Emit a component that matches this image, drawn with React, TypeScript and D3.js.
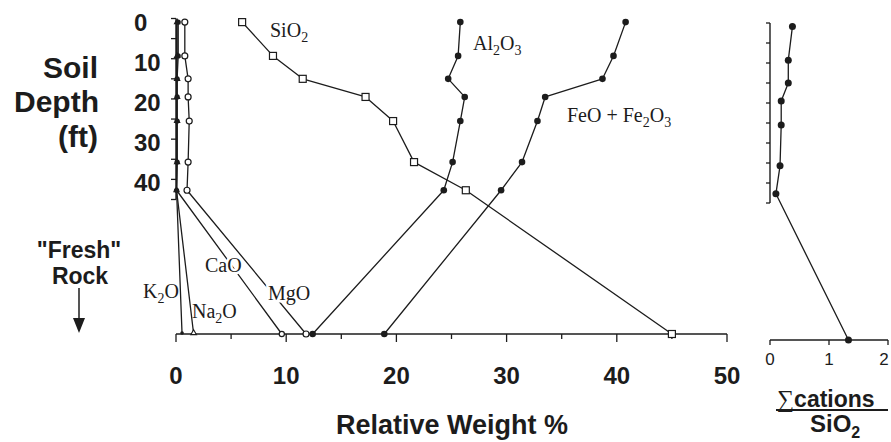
import React from 'react';
import * as d3 from 'd3';

// ---- data ----
const sampleDepths = [0.9, 9.3, 15.0, 19.5, 25.5, 35.7, 42.7]; // ft
const sio2 = [6.0, 8.8, 11.5, 17.2, 19.7, 21.6, 26.3];
const al2o3 = [25.8, 25.6, 24.7, 26.2, 25.8, 25.1, 24.3];
const feoFe2o3 = [40.8, 39.7, 38.7, 33.5, 32.8, 31.4, 29.5];
const mgo = [0.8, 0.8, 1.1, 1.1, 1.2, 1.1, 1.0];
const cao = [0.2, 0.2, 0.1, 0.1, 0.1, 0.1, 0.05];
const na2o = [0.1, 0.1, 0.1, 0.1, 0.1, 0.1, 0.05];
const k2o = [0.05, 0.05, 0.05, 0.05, 0.05, 0.05, 0.05];
// "fresh" rock values
const freshSio2 = 45.0;
const freshAl2o3 = 12.4;
const freshFeo = 18.9;
const freshMgo = 11.8;
const freshCao = 9.6;
const freshNa2o = 1.6;
const freshK2o = 0.55;
// sum cations / SiO2
const cationRatio = [0.38, 0.31, 0.31, 0.19, 0.19, 0.17, 0.1];
const freshCationRatio = 1.33;

const xTickValues = [0, 5, 10, 15, 20, 25, 30, 35, 40, 45, 50];
const xTickLabels = ['0', '10', '20', '30', '40', '50'];
const depthTickValues = [0, 5, 10, 15, 20, 25, 30, 35, 40, 45];
const depthTickLabels = ['0', '10', '20', '30', '40'];
const ratioTickLabels = ['0', '1', '2'];

const SANS = '"Liberation Sans", Arial, Helvetica, sans-serif';
const SERIF = '"Liberation Serif", "Times New Roman", serif';
const INK = '#1c1c1c';

export default function App() {
  const W = 891;
  const H = 442;
  const x = d3.scaleLinear().domain([0, 50]).range([176, 727]);
  const y = d3.scaleLinear().domain([0, 45]).range([18.5, 199.5]);
  const rockY = 334;
  const xr = d3.scaleLinear().domain([0, 2]).range([770, 888]);
  const yr = d3.scaleLinear().domain([0, 45]).range([23, 203]);
  const rockYr = 340;

  const line = d3.line<[number, number]>();
  const pts = (vals: number[], fresh: number): [number, number][] => [
    ...vals.map((v, i) => [x(v), y(sampleDepths[i])] as [number, number]),
    [x(fresh), rockY],
  ];
  const ptsR = (vals: number[], fresh: number): [number, number][] => [
    ...vals.map((v, i) => [xr(v), yr(sampleDepths[i])] as [number, number]),
    [xr(fresh), rockYr],
  ];

  const sSio2 = pts(sio2, freshSio2);
  const sAl = pts(al2o3, freshAl2o3);
  const sFe = pts(feoFe2o3, freshFeo);
  const sMg = pts(mgo, freshMgo);
  const sCa = pts(cao, freshCao);
  const sNa = pts(na2o, freshNa2o);
  const sK = pts(k2o, freshK2o);
  const sR = ptsR(cationRatio, freshCationRatio);

  const tri = d3.symbol(d3.symbolTriangle, 22)() as string;
  const triSmall = d3.symbol(d3.symbolTriangle, 14)() as string;

  const lineProps = { fill: 'none', stroke: INK, strokeWidth: 1.3, strokeLinejoin: 'round' as const };
  const halo = { stroke: '#fff', strokeWidth: 5, paintOrder: 'stroke' as const };

  const chem = (parts: [string, boolean][]) =>
    parts.map(([t, sub], i) => (
      <tspan key={i} fontSize={sub ? 14 : 20} dy={sub ? 5 : i > 0 && parts[i - 1][1] ? -5 : 0}>
        {t}
      </tspan>
    ));

  return (
    <svg width={W} height={H} style={{ position: 'absolute', left: 0, top: 0, background: '#fff' }}>
      {/* main y axis */}
      <line x1={x(0)} x2={x(0)} y1={y(0)} y2={y(45)} stroke={INK} strokeWidth={1.4} />
      {depthTickValues.map((d) => (
        <line key={'yt' + d} x1={x(0) - 5} x2={x(0)} y1={y(d)} y2={y(d)} stroke={INK} strokeWidth={1.3} />
      ))}
      {depthTickLabels.map((t) => (
        <text key={'yl' + t} x={134} y={y(+t) + 12} fontFamily={SANS} fontWeight="bold" fontSize={24} fill={INK}>
          {t}
        </text>
      ))}
      {/* main x axis */}
      <line x1={x(0)} x2={x(50)} y1={rockY} y2={rockY} stroke={INK} strokeWidth={1.4} />
      {xTickValues.map((v) => (
        <line key={'xt' + v} x1={x(v)} x2={x(v)} y1={rockY} y2={rockY + (v % 10 === 0 ? 8 : 5)} stroke={INK} strokeWidth={1.3} />
      ))}
      {xTickLabels.map((t) => (
        <text key={'xl' + t} x={x(+t)} y={384} textAnchor="middle" fontFamily={SANS} fontWeight="bold" fontSize={24} fill={INK}>
          {t}
        </text>
      ))}
      <text x={452} y={434} textAnchor="middle" fontFamily={SANS} fontWeight="bold" fontSize={27} fill={INK}>
        Relative Weight %
      </text>

      {/* left titles */}
      <g fontFamily={SANS} fontWeight="bold" fontSize={30} fill={INK} textAnchor="end">
        <text x={98} y={78}>Soil</text>
        <text x={99} y={112}>Depth</text>
        <text x={98} y={147}>(ft)</text>
      </g>
      <g fontFamily={SANS} fontWeight="bold" fontSize={23} fill={INK} textAnchor="middle">
        <text x={79} y={258}>"Fresh"</text>
        <text x={80} y={284}>Rock</text>
      </g>
      <line x1={79} x2={79} y1={288} y2={320} stroke={INK} strokeWidth={1.5} />
      <path d="M73,318 L85,318 L79,333 Z" fill={INK} />

      {/* series lines */}
      <path d={line(sK) as string} {...lineProps} />
      <path d={line(sNa) as string} {...lineProps} />
      <path d={line(sCa) as string} {...lineProps} />
      <path d={line(sMg) as string} {...lineProps} />
      <path d={line(sSio2) as string} {...lineProps} />
      <path d={line(sAl) as string} {...lineProps} />
      <path d={line(sFe) as string} {...lineProps} />

      {/* markers */}
      {sSio2.map(([px, py], i) => (
        <rect key={'sq' + i} x={px - 3.5} y={py - 3.5} width={7} height={7} fill="#fff" stroke={INK} strokeWidth={1.2} />
      ))}
      {[...sAl, ...sFe].map(([px, py], i) => (
        <circle key={'fc' + i} cx={px} cy={py} r={3.3} fill={INK} />
      ))}
      {sMg.map(([px, py], i) => (
        <circle key={'mg' + i} cx={px} cy={py} r={3} fill="#fff" stroke={INK} strokeWidth={1.2} />
      ))}
      {sCa.slice(0, -1).map(([px, py], i) => (
        <circle key={'ca' + i} cx={px} cy={py} r={2.6} fill={INK} />
      ))}
      <circle cx={sCa[sCa.length - 1][0]} cy={sCa[sCa.length - 1][1]} r={2.6} fill="#fff" stroke={INK} strokeWidth={1.2} />
      {sNa.slice(0, -1).map(([px, py], i) => (
        <path key={'na' + i} d={tri} transform={`translate(${px},${py})`} fill={INK} />
      ))}
      <path d={triSmall} transform={`translate(${sNa[sNa.length - 1][0]},${sNa[sNa.length - 1][1] - 1})`} fill="#fff" stroke={INK} strokeWidth={1.1} />
      <circle cx={sK[sK.length - 1][0]} cy={sK[sK.length - 1][1] - 1} r={1.8} fill={INK} />

      {/* chemical labels */}
      <g fontFamily={SERIF} fill={INK}>
        <text x={270} y={37}>{chem([['SiO', false], ['2', true]])}</text>
        <text x={473} y={50}>{chem([['Al', false], ['2', true], ['O', false], ['3', true]])}</text>
        <text x={567} y={122}>{chem([['FeO + Fe', false], ['2', true], ['O', false], ['3', true]])}</text>
        <text x={205} y={272} {...halo}>{chem([['CaO', false]])}</text>
        <text x={268} y={300} {...halo}>{chem([['MgO', false]])}</text>
        <text x={143} y={298}>{chem([['K', false], ['2', true], ['O', false]])}</text>
        <text x={192} y={318}>{chem([['Na', false], ['2', true], ['O', false]])}</text>
      </g>

      {/* right panel */}
      <line x1={xr(0)} x2={xr(0)} y1={yr(0)} y2={yr(45)} stroke={INK} strokeWidth={1.4} />
      {depthTickValues.map((d) => (
        <line key={'ryt' + d} x1={xr(0) - 4} x2={xr(0)} y1={yr(d)} y2={yr(d)} stroke={INK} strokeWidth={1.3} />
      ))}
      <line x1={xr(0)} x2={xr(2)} y1={rockYr} y2={rockYr} stroke={INK} strokeWidth={1.4} />
      {ratioTickLabels.map((t) => (
        <g key={'rx' + t}>
          <line x1={xr(+t)} x2={xr(+t)} y1={rockYr} y2={rockYr + 5} stroke={INK} strokeWidth={1.3} />
          <text x={Math.min(xr(+t), 884)} y={365} textAnchor="middle" fontFamily={SANS} fontSize={17} fill={INK}>
            {t}
          </text>
        </g>
      ))}
      <path d={line(sR) as string} {...lineProps} />
      {sR.map(([px, py], i) => (
        <circle key={'r' + i} cx={px} cy={py} r={3.5} fill={INK} />
      ))}
      <text x={777} y={407} fill={INK}>
        <tspan fontFamily={SERIF} fontSize={24}>∑</tspan>
        <tspan fontFamily={SANS} fontWeight="bold" fontSize={23}>cations</tspan>
      </text>
      <line x1={776} x2={888} y1={410} y2={410} stroke={INK} strokeWidth={1.8} />
      <text x={810} y={432} fontFamily={SANS} fontWeight="bold" fontSize={24} fill={INK}>
        SiO<tspan fontSize={16} dy={6}>2</tspan>
      </text>
    </svg>
  );
}
